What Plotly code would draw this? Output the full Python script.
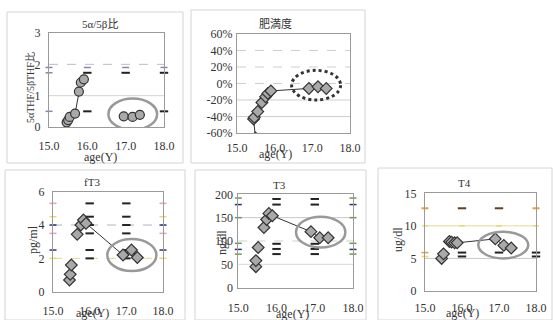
import plotly.graph_objects as go

W, H = 553, 320

# ---------------- data ----------------
ratio_age = [15.46, 15.50, 15.54, 15.68, 15.78, 15.83, 15.91, 16.95, 17.18, 17.37]
ratio_val = [0.15, 0.22, 0.32, 0.43, 1.13, 1.42, 1.52, 0.34, 0.32, 0.39]

obes_age = [15.49, 15.44, 15.46, 15.55, 15.66, 15.76, 15.82, 15.90, 16.91, 17.15, 17.37]
obes_val = [-0.66, -0.43, -0.41, -0.34, -0.23, -0.16, -0.12, -0.09, -0.06, -0.04, -0.06]

ft3_age = [15.45, 15.47, 15.50, 15.66, 15.76, 15.83, 15.90, 16.91, 17.14, 17.30]
ft3_val = [0.70, 1.04, 1.60, 3.44, 4.00, 4.30, 4.10, 2.20, 2.50, 2.05]

t3_age = [15.46, 15.46, 15.52, 15.67, 15.74, 15.80, 15.89, 16.90, 17.13, 17.35]
t3_val = [45, 58, 86, 129, 146, 159, 154, 120, 107, 107]

t4_age = [15.45, 15.50, 15.66, 15.72, 15.80, 15.87, 16.90, 17.13, 17.33]
t4_val = [5.0, 5.7, 7.6, 7.5, 7.4, 7.4, 8.0, 7.0, 6.6]

# reference-range dashes
ratio_ref_black_x = [16, 17, 18, 16, 18]
ratio_ref_black_y = [1.73, 1.73, 1.73, 0.5, 0.5]
ratio_ref_purple_x = [15, 16, 17, 18, 15, 15]
ratio_ref_purple_y = [1.9, 1.9, 1.9, 1.9, 1.73, 0.5]

ft3_ref_levels = [5.3, 4.5, 4.0, 3.5, 2.5, 2.0]
ft3_edge_colors = ["#e8a0c0", "#e8d870", "#303070", "#e8a0c0", "#303070", "#e8d870"]

t3_ref_levels = [190, 178, 94, 83, 72]
t3_edge_levels = [192, 178, 150, 95, 82, 72]
t3_edge_colors = ["#6a9a50", "#303070", "#6a9a50", "#6a9a50", "#303070", "#6a9a50"]

t4_top_level = 12.7
t4_ref_x = [16, 16, 17, 18, 18]
t4_ref_y = [5.9, 5.3, 5.9, 5.9, 5.3]
t4_edge_y = [5.9, 5.3]
t4_edge_colors = ["#e0a040", "#e8d870"]

xticks = [15, 16, 17, 18]
xticklabels = ["15.0", "16.0", "17.0", "18.0"]

# ---------------- layout helpers ----------------
def dom_x(a, b):
    return [a / W, b / W]

def dom_y(top, bottom):
    return [1 - bottom / H, 1 - top / H]

SERIF = "Liberation Serif, Noto Sans CJK JP, serif"
TXT = "#333333"

panels = [
    dict(x=(49, 164), y=(33, 127), yr=[0, 3], xtl=8, ytl=5, ytv=[0, 1, 2, 3], ytt=["0", "1", "2", "3"]),
    dict(x=(237, 350), y=(34, 133), yr=[-0.6, 0.6], xtl=4, ytl=1,
         ytv=[-0.6, -0.4, -0.2, 0, 0.2, 0.4, 0.6],
         ytt=["-60%", "-40%", "-20%", "0%", "20%", "40%", "60%"]),
    dict(x=(53, 163), y=(191.7, 291.7), yr=[0, 6], xtl=8, ytl=5, ytv=[0, 2, 4, 6], ytt=["0", "2", "4", "6"]),
    dict(x=(238.3, 353), y=(194.3, 287.7), yr=[0, 200], xtl=9, ytl=2,
         ytv=[0, 50, 100, 150, 200], ytt=["0", "50", "100", "150", "200"]),
    dict(x=(425, 536), y=(193.3, 291), yr=[0, 15], xtl=6, ytl=5,
         ytv=[0, 5, 10, 15], ytt=["0", "5", "10", "15"]),
]

layout = dict(
    width=W, height=H, margin=dict(l=0, r=0, t=0, b=0),
    paper_bgcolor="white", plot_bgcolor="white", showlegend=False,
    font=dict(family=SERIF, color=TXT, size=11), hovermode=False,
)

for i, p in enumerate(panels, start=1):
    sx = "" if i == 1 else str(i)
    layout["xaxis" + sx] = dict(
        domain=dom_x(*p["x"]), range=[15, 18], anchor="y" + sx,
        tickvals=xticks, ticktext=xticklabels, showgrid=False, zeroline=False,
        showline=True, linecolor="#9a9a9a", linewidth=1, mirror=True,
        ticks="outside", ticklen=p["xtl"], tickcolor="rgba(0,0,0,0)",
        tickfont=dict(family=SERIF, size=12, color=TXT), fixedrange=True,
        automargin=False,
    )
    layout["yaxis" + sx] = dict(
        domain=dom_y(*p["y"]), range=p["yr"], anchor="x" + sx,
        tickvals=p["ytv"], ticktext=p["ytt"], showgrid=False, zeroline=False,
        showline=True, linecolor="#9a9a9a", linewidth=1, mirror=True,
        ticks="outside", ticklen=p["ytl"], tickcolor="rgba(0,0,0,0)",
        tickfont=dict(family=SERIF, size=12, color=TXT), fixedrange=True,
        automargin=False,
    )

fig = go.Figure(layout=layout)

def ax(i):
    return ("x", "y") if i == 1 else ("x%d" % i, "y%d" % i)

def add_dash(i, xs, ys, color, size=6, width=2):
    xa, ya = ax(i)
    fig.add_trace(go.Scatter(
        x=xs, y=ys, xaxis=xa, yaxis=ya, mode="markers", cliponaxis=False,
        marker=dict(symbol="line-ew", size=size, line=dict(color=color, width=width)),
        hoverinfo="skip"))

def add_hgrid(i, y, color, dash="solid", width=1):
    xa, ya = ax(i)
    fig.add_shape(type="line", xref=xa, yref=ya, x0=15, x1=18, y0=y, y1=y,
                  line=dict(color=color, width=width, dash=dash), layer="below")

def add_ellipse(i, x0, x1, y0, y1, color="#999999", dash="solid", width=2.5):
    xa, ya = ax(i)
    fig.add_shape(type="circle", xref=xa, yref=ya, x0=x0, x1=x1, y0=y0, y1=y1,
                  line=dict(color=color, width=width, dash=dash), layer="above")

def add_line(i, xs, ys):
    xa, ya = ax(i)
    fig.add_trace(go.Scatter(x=xs, y=ys, xaxis=xa, yaxis=ya, mode="lines",
                             line=dict(color="#333333", width=1), hoverinfo="skip"))

def add_points(i, xs, ys, symbol, size):
    xa, ya = ax(i)
    fig.add_trace(go.Scatter(
        x=xs, y=ys, xaxis=xa, yaxis=ya, mode="markers",
        marker=dict(symbol=symbol, size=size, color="#a9a9a9",
                    line=dict(color="#333333", width=1.2))))

# ---- panel 1: 5a/5b ratio ----
add_hgrid(1, 2, "#c0b8cc", "dash")
add_hgrid(1, 1, "#d4d4d4")
add_dash(1, ratio_ref_purple_x, ratio_ref_purple_y, "#9080b0", 5, 1.5)
add_dash(1, ratio_ref_black_x, ratio_ref_black_y, "#222222", 6, 2)
add_line(1, ratio_age[:7], ratio_val[:7])
add_points(1, ratio_age, ratio_val, "circle", 9)
add_ellipse(1, 16.55, 17.82, -0.09, 0.91)

# ---- panel 2: obesity ----
for lv in [0.4, 0.2, 0.0]:
    add_hgrid(2, lv, "#cfcfcf", "dash")
for lv in [-0.2, -0.4]:
    add_hgrid(2, lv, "#cfcfcf")
add_line(2, obes_age, obes_val)
add_points(2, obes_age, obes_val, "diamond", 9)
add_ellipse(2, 16.45, 17.75, -0.20, 0.16, color="#333333", dash="dot", width=3)

# ---- panel 3: fT3 ----
add_hgrid(3, 4, "#b0b4c8", "dash")
add_hgrid(3, 2, "#e4d890", "dash")
add_dash(3, [16] * len(ft3_ref_levels) + [17] * len(ft3_ref_levels),
         ft3_ref_levels + ft3_ref_levels, "#222222", 6, 2)
for lv, c in zip(ft3_ref_levels, ft3_edge_colors):
    add_dash(3, [15, 18], [lv, lv], c, 5, 1.5)
add_line(3, ft3_age[6:], ft3_val[6:])
add_points(3, ft3_age, ft3_val, "diamond", 9)
add_ellipse(3, 16.48, 17.82, 1.24, 3.16)

# ---- panel 4: T3 ----
add_hgrid(4, 150, "#c8c8c8")
add_hgrid(4, 100, "#cfcfcf", "dash")
add_hgrid(4, 50, "#d8d8d8")
add_dash(4, [16] * len(t3_ref_levels) + [17] * len(t3_ref_levels),
         t3_ref_levels + t3_ref_levels, "#222222", 6, 2)
for lv, c in zip(t3_edge_levels, t3_edge_colors):
    add_dash(4, [15, 18], [lv, lv], c, 5, 1.5)
add_line(4, t3_age[6:], t3_val[6:])
add_points(4, t3_age, t3_val, "diamond", 9)
add_ellipse(4, 16.51, 17.80, 86, 152)

# ---- panel 5: T4 ----
add_hgrid(5, 10, "#e4dc90")
add_hgrid(5, 5, "#c8c8c8")
add_dash(5, [15, 18], [t4_top_level, t4_top_level], "#e0a040", 5, 2)
add_dash(5, [16, 17], [t4_top_level, t4_top_level], "#604020", 6, 2)
add_dash(5, [15, 16, 17, 18], [10, 10, 10, 10], "#e8d870", 4, 1.5)
add_dash(5, t4_ref_x, t4_ref_y, "#222222", 6, 2)
for lv, c in zip(t4_edge_y, t4_edge_colors):
    add_dash(5, [15], [lv], c, 5, 1.5)
add_line(5, t4_age[5:], t4_val[5:])
add_points(5, t4_age, t4_val, "diamond", 9)
add_ellipse(5, 16.44, 17.79, 5.0, 9.1)

# ---------------- text annotations (titles) ----------------
def ann(x, y, text, size=11, angle=0):
    fig.add_annotation(x=x / W, y=1 - y / H, xref="paper", yref="paper", text=text,
                       showarrow=False, textangle=angle,
                       font=dict(family=SERIF, size=size, color=TXT),
                       xanchor="center", yanchor="middle")

ann(100, 24, "5α/5β比")
ann(275, 24, "肥満度")
ann(92, 182, "fT3")
ann(279, 185, "T3")
ann(464, 183, "T4")

ann(30, 88, "5αTHF/5βTHF比", 10, -90)
ann(33, 240, "pg/ml", 12, -90)
ann(222, 243, "ng/dl", 12, -90)
ann(398, 240, "ug/dl", 12, -90)

ann(100, 157, "age(Y)", 12)
ann(275, 154, "age(Y)", 12)
ann(92, 313, "age(Y)", 12)
ann(292, 314, "age(Y)", 12)
ann(462, 313, "age(Y)", 12)

# ---------------- panel frames ----------------
frames = [(7, 12, 183, 163), (191, 10, 365, 163), (5, 170, 185, 320),
          (195, 170, 366, 320), (378, 168, 552, 320)]
for (x0, y0, x1, y1) in frames:
    fig.add_shape(type="rect", xref="paper", yref="paper",
                  x0=x0 / W, x1=x1 / W, y0=1 - y1 / H, y1=1 - y0 / H,
                  line=dict(color="#d4d4d4", width=1), layer="below")

fig.write_html(
    "out.html",
    config={"displayModeBar": False, "staticPlot": True},
    post_script="document.body.style.margin='0';document.body.style.overflow='hidden';",
)
